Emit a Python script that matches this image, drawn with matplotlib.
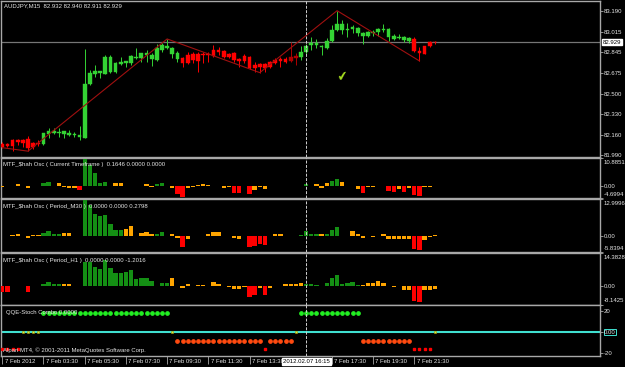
import matplotlib
matplotlib.use("Agg")
import matplotlib.pyplot as plt
import matplotlib.transforms as mtransforms
import numpy as np

plt.rcParams['font.family'] = ['Liberation Sans', 'DejaVu Sans']

# ---------------- data ----------------
header_text = "AUDJPY,M15  82.932 82.940 82.911 82.929"

opens = [82.081, 82.081, 82.115, 82.115, 82.115, 82.120, 82.087, 82.093, 82.079, 82.162,
         82.170, 82.176, 82.165, 82.159, 82.156, 82.137, 82.129, 82.578, 82.664, 82.669,
         82.664, 82.683, 82.678, 82.747, 82.752, 82.758, 82.794, 82.794, 82.822, 82.786,
         82.780, 82.863, 82.877, 82.830, 82.788, 82.799, 82.822, 82.827, 82.827, 82.827,
         82.830, 82.863, 82.863, 82.858, 82.827, 82.836, 82.788, 82.813, 82.808, 82.738,
         82.744, 82.744, 82.761, 82.780, 82.786, 82.786, 82.802, 82.813, 82.802, 82.849,
         82.905, 82.902, 82.885, 82.877, 82.938, 83.030, 83.030, 83.032, 83.035, 83.002,
         82.980, 82.980, 83.005, 83.010, 83.030, 82.974, 82.957, 82.963, 82.946, 82.941,
         82.952, 82.855, 82.896, 82.933, 82.932]
highs = [82.101, 82.093, 82.120, 82.123, 82.123, 82.148, 82.095, 82.115, 82.176, 82.212,
         82.217, 82.212, 82.190, 82.198, 82.181, 82.231, 82.872, 82.697, 82.738, 82.691,
         82.822, 82.822, 82.766, 82.802, 82.772, 82.822, 82.883, 82.841, 82.863, 82.836,
         82.913, 82.924, 82.955, 82.891, 82.855, 82.808, 82.849, 82.849, 82.849, 82.844,
         82.849, 82.905, 82.891, 82.863, 82.841, 82.849, 82.794, 82.827, 82.813, 82.766,
         82.758, 82.752, 82.772, 82.794, 82.808, 82.802, 82.933, 82.836, 82.899, 82.913,
         82.969, 82.952, 82.905, 82.960, 83.071, 83.190, 83.113, 83.085, 83.071, 83.057,
         83.010, 83.021, 83.030, 83.049, 83.079, 83.043, 82.993, 82.996, 82.980, 82.974,
         82.969, 82.885, 82.899, 82.941, 82.940]
lows = [82.045, 82.054, 82.026, 82.073, 82.054, 82.022, 82.040, 82.065, 82.073, 82.134,
        82.165, 82.142, 82.129, 82.148, 82.142, 82.115, 82.129, 82.572, 82.641, 82.628,
        82.664, 82.669, 82.669, 82.738, 82.725, 82.738, 82.786, 82.766, 82.766, 82.733,
        82.775, 82.849, 82.872, 82.794, 82.766, 82.725, 82.747, 82.758, 82.683, 82.752,
        82.766, 82.808, 82.822, 82.794, 82.794, 82.766, 82.725, 82.752, 82.705, 82.683,
        82.675, 82.683, 82.711, 82.747, 82.725, 82.752, 82.766, 82.738, 82.780, 82.830,
        82.863, 82.877, 82.822, 82.869, 82.933, 83.024, 82.996, 82.974, 83.002, 82.982,
        82.913, 82.974, 82.980, 82.980, 83.016, 82.941, 82.946, 82.952, 82.933, 82.919,
        82.849, 82.772, 82.830, 82.891, 82.911]
closes = [82.059, 82.065, 82.068, 82.095, 82.093, 82.051, 82.054, 82.081, 82.170, 82.192,
          82.192, 82.181, 82.190, 82.176, 82.167, 82.156, 82.580, 82.675, 82.691, 82.689,
          82.808, 82.808, 82.758, 82.763, 82.769, 82.813, 82.808, 82.836, 82.841, 82.822,
          82.877, 82.902, 82.896, 82.883, 82.836, 82.752, 82.752, 82.780, 82.772, 82.822,
          82.819, 82.813, 82.849, 82.802, 82.808, 82.780, 82.772, 82.775, 82.711, 82.711,
          82.725, 82.711, 82.719, 82.752, 82.772, 82.766, 82.772, 82.799, 82.849, 82.896,
          82.919, 82.919, 82.896, 82.941, 83.030, 83.079, 83.079, 83.041, 83.057, 83.049,
          83.007, 83.013, 83.016, 83.035, 83.041, 83.038, 82.980, 82.974, 82.974, 82.960,
          82.858, 82.836, 82.830, 82.896, 82.929]
dark_red_bars = [56, 57]

zigzag_bars = [0, 5, 32, 50, 65, 81]
zigzag_prices = [82.051, 82.022, 82.955, 82.675, 83.190, 82.772]

price_ticks = [83.190, 83.015, 82.845, 82.675, 82.500, 82.330, 82.160, 81.990]
price_limits = (81.976, 83.268)
bid_price = 82.929

check_bar = 66
check_price = 82.64

osc_titles = ["MTF_\\$hah Osc ( Current Timeframe )  0.1646 0.0000 0.0000",
              "MTF_\\$hah Osc ( Period_M30 )  0.0000 0.0000 0.2798",
              "MTF_\\$hah Osc ( Period_H1 )  0.0000 0.0000 -1.2016"]
osc_limits = [(-4.6994, 10.8851), (-5.8394, 12.9996), (-8.1425, 14.3828)]

osc_current = [-0.2, 0.1, 0.1, 0.6, 0.1, -0.9, 0.1, 0.1, 1.0, 1.4,
               0.1, 1.0, -0.3, -0.6, -0.9, -1.65, 10.2, 8.0, 4.8, 1.0,
               1.4, -0.1, 1.3, 1.0, 0.1, 0.1, 0.1, 0.1, 0.8, -0.5,
               0.6, 1.0, 0.1, -0.9, -3.2, -4.3, -0.8, -0.5, 0.5, 0.9,
               0.4, 0.1, 0.1, -0.8, -0.2, -2.5, -2.5, -0.1, -2.9, -1.4,
               -0.3, -1.0, 0.1, 0.1, 0.1, 0.1, 0.1, 0.1, 0.1, 0.6,
               0.1, 0.9, -0.6, 1.0, 1.9, 2.7, 1.4, 0.1, -0.1, -1.3,
               -2.5, -0.2, -0.2, 0.1, 0.1, -1.8, -2.4, -1.1, -2.4, -0.6,
               -3.4, -3.9, -0.5, -0.2, 0.16]
osc_current_col = ("oogooooggg goooorgggg ggoooooooo gggorroooo ooooorroro "
                   "oogggggggg goooggoooo rooggrroro rroog").replace(" ", "")
osc_m30 = [0.1, 0.1, 0.2, 0.7, 0.1, -0.6, 0.35, 0.35, 0.9, 1.8,
           0.7, 0.7, 1.1, 1.1, 0.1, -0.1, 12.9, 11.0, 7.8, 7.1,
           7.4, 4.2, 2.1, 2.1, 2.5, 3.5, 0.1, 0.9, 1.2, 0.6,
           0.7, 1.4, 0.1, 0.6, -0.8, -3.8, -1.1, 0.1, -0.2, 0.1,
           0.6, 1.3, 1.3, 0.1, 0.1, -0.6, -1.1, 0.1, -4.1, -3.5,
           -2.9, -3.4, 0.1, 0.5, 0.5, 0.1, 0.1, 0.1, 0.2, 1.8,
           0.8, 0.7, 0.8, 0.7, 2.0, 3.2, 0.1, 0.1, 1.8, 0.5,
           -0.9, -0.1, -0.3, 0.1, 0.5, -1.2, -1.2, -1.2, -1.2, -1.2,
           -4.5, -5.1, -1.4, -0.5, 0.28]
osc_m30_col = ("ogoooooogg ggoooogggg ggggoooooo gggooroooo oooooooorr "
               "rrgooogggg ggogggggoo oooooooooo rrooo").replace(" ", "")
osc_h1 = [-2.8, -2.8, 0.1, 0.1, 0.1, -2.5, 0.1, 0.1, 0.9, 1.6,
          0.9, 0.9, 0.7, 0.7, 0.1, 0.1, 10.6, 10.6, 8.2, 7.4,
          11.4, 8.0, 5.5, 5.5, 6.0, 7.0, 3.1, 3.4, 3.4, 2.3,
          0.1, 1.2, 1.2, 3.4, 0.1, -1.0, 0.7, 0.1, 0.4, 0.4,
          0.1, 1.6, 1.0, 0.1, -0.6, -1.3, -1.3, -0.3, -4.7, -3.9,
          -1.0, -3.9, -1.0, 0.1, 0.1, 0.7, 0.7, 0.9, 1.4, 0.9,
          1.0, 0.5, 0.1, 1.3, 3.5, 4.7, 1.0, 1.4, 1.7, 0.6,
          0.6, 1.4, 1.4, 2.1, 1.4, 0.1, -0.5, 0.1, -1.8, -1.8,
          -6.4, -7.2, -1.8, -1.6, -1.2]
osc_h1_col = ("rroooroogg ggoooogggg gggggggggg gggooooooo oooooooorr "
              "orooooooog gggggggggg oooooooooo rrooo").replace(" ", "")

qqe_title = "QQE-Stoch Combo 0.0000"
qqe_green_bars = list(range(8, 33)) + list(range(58, 70))
qqe_yellow_bars = [4, 5, 6, 7, 33, 57, 84]
qqe_orange_bars = list(range(34, 51)) + list(range(52, 57)) + list(range(70, 80))
qqe_red_bars = [0, 1, 2, 3, 51, 80, 81, 82, 83]
qqe_green_level, qqe_orange_level, qqe_red_level = 18.0, -8.5, -16.5
qqe_limits = (-23.2, 25.4)

time_tick_bars = [0, 8, 16, 24, 32, 40, 48, 64, 72, 80]
time_tick_labels = ["7 Feb 2012", "7 Feb 03:30", "7 Feb 05:30", "7 Feb 07:30",
                    "7 Feb 09:30", "7 Feb 11:30", "7 Feb 13:30", "7 Feb 17:30",
                    "7 Feb 19:30", "7 Feb 21:30"]
cursor_bar = 59
cursor_label = "2012.02.07 16:15"
copyright_text = "Alpari MT4, \u00a9 2001-2011 MetaQuotes Software Corp."

# ---------------- figure ----------------
W, H = 625, 367
FS = 4.3
TXT = '#E6E6E6'
SP = '#A8A8A8'
fig = plt.figure(figsize=(W / 100, H / 100), dpi=100, facecolor='black')


def ax_at(top, bottom, left=1, right=600):
    a = fig.add_axes([left / W, 1 - bottom / H, (right - left) / W, (bottom - top) / H])
    a.set_facecolor('black')
    for s in a.spines.values():
        s.set_color(SP)
        s.set_linewidth(1.0)
    a.set_xlim(-0.25, 116.05)
    a.tick_params(axis='x', bottom=False, labelbottom=False)
    a.yaxis.tick_right()
    a.tick_params(axis='y', colors=SP, labelcolor=TXT, labelsize=FS, length=2,
                  width=0.6, pad=1)
    return a


ax_main = ax_at(1.3, 156.7)
ax_c = ax_at(157.5, 198.3)
ax_m30 = ax_at(199.3, 252.3)
ax_h1 = ax_at(253.3, 304.5)
ax_q = ax_at(305.3, 356)
all_axes = [ax_main, ax_c, ax_m30, ax_h1, ax_q]

# ---- main candles ----
o = np.array(opens); h = np.array(highs); l = np.array(lows); c = np.array(closes)
xb = np.arange(len(o))
cols = []
for i in range(len(o)):
    if i in dark_red_bars:
        cols.append('#B00000')
    elif c[i] >= o[i]:
        cols.append('#34D334')
    else:
        cols.append('#FF0000')
ax_main.vlines(xb, l, h, colors=cols, lw=0.7, zorder=3)
body_b = np.minimum(o, c)
body_h = np.maximum(np.abs(c - o), 0.004)
ax_main.bar(xb, body_h, bottom=body_b, width=0.72, color=cols, edgecolor=cols,
            lw=0.3, zorder=4)
ax_main.plot(zigzag_bars, zigzag_prices, color='#A01010', lw=0.8, zorder=5)
ax_main.axhline(bid_price, color='#767676', lw=0.9, zorder=2)
ax_main.set_ylim(*price_limits)
ax_main.set_yticks(price_ticks)
ax_main.set_yticklabels(["%.3f" % p for p in price_ticks])
ax_main.text(1.004, bid_price, "%.3f" % bid_price, transform=ax_main.get_yaxis_transform(),
             ha='left', va='center', fontsize=FS, color='black', clip_on=False,
             bbox=dict(facecolor='white', edgecolor='white', pad=0.6), zorder=10)
ax_main.text(check_bar, check_price, "\u2714", fontsize=9, color='#A8E020',
             ha='center', va='center', family=['DejaVu Sans'], rotation=8, zorder=6)
fig.text(4 / W, 1 - 6 / H, header_text, fontsize=FS, color=TXT, ha='left', va='center')

# ---- oscillators ----
cmap = {'g': '#148F14', 'o': '#FFA500', 'r': '#FF0000'}
osc_data = [(ax_c, osc_current, osc_current_col), (ax_m30, osc_m30, osc_m30_col),
            (ax_h1, osc_h1, osc_h1_col)]
title_y = [164.3, 206.7, 260.7]
for k, (a, vals, cc) in enumerate(osc_data):
    v = np.array(vals)
    xs = np.arange(len(v))
    colors = [cmap[ch] for ch in cc[:len(v)]]
    a.bar(xs, v, width=0.84, color=colors, lw=0, zorder=3)
    lo, hi = osc_limits[k]
    a.set_ylim(lo, hi)
    a.set_yticks([lo, 0, hi])
    a.set_yticklabels(["", "0.00", ""])
    tr_hi = a.get_yaxis_transform() + mtransforms.ScaledTranslation(0.04, -0.045, fig.dpi_scale_trans)
    tr_lo = a.get_yaxis_transform() + mtransforms.ScaledTranslation(0.04, 0.035, fig.dpi_scale_trans)
    a.text(1.0, hi, "%.4f" % hi, transform=tr_hi, ha='left', va='center',
           fontsize=FS, color=TXT, clip_on=False)
    a.text(1.0, lo, "%.4f" % lo, transform=tr_lo, ha='left', va='center',
           fontsize=FS, color=TXT, clip_on=False)
    fig.text(3 / W, 1 - title_y[k] / H, osc_titles[k], fontsize=FS, color=TXT,
             ha='left', va='center', zorder=20)

# ---- QQE panel ----
ax_q.set_ylim(*qqe_limits)
ax_q.axhline(0, color='#40E0D0', lw=1.5, zorder=2)
ax_q.plot(qqe_green_bars, [qqe_green_level] * len(qqe_green_bars), 'o', ms=2.4,
          color='#22EE22', mec='#22EE22', zorder=4)
ax_q.plot(qqe_orange_bars, [qqe_orange_level] * len(qqe_orange_bars), 'o', ms=2.4,
          color='#FF4A10', mec='#FF4A10', zorder=4)
ax_q.plot(qqe_red_bars, [qqe_red_level] * len(qqe_red_bars), 's', ms=2.0,
          color='#FF0000', mec='#FF0000', zorder=4)
ax_q.plot(qqe_yellow_bars, [0] * len(qqe_yellow_bars), 's', ms=2.0,
          color='#E8E840', mec='#A0A000', mew=0.4, zorder=5)
ax_q.set_yticks([20, 0, -20])
ax_q.set_yticklabels(["20", "0.00", "-20"])
ax_q.get_yticklabels()[1].set_bbox(dict(facecolor='black', edgecolor='#40E0D0',
                                        pad=0.3, lw=0.7))
fig.text(6 / W, 1 - 312.7 / H, qqe_title, fontsize=FS, color=TXT, ha='left',
         va='center', zorder=1)
fig.text(3 / W, 1 - 350 / H, copyright_text, fontsize=FS, color=TXT, ha='left',
         va='center', zorder=20)

# time axis
ax_q.set_xticks(time_tick_bars)
ax_q.tick_params(axis='x', bottom=True, length=5.5, width=0.6, color=SP,
                 labelbottom=False)
for b, lab in zip(time_tick_bars, time_tick_labels):
    ax_q.text(b + 0.45, -0.115, lab, transform=ax_q.get_xaxis_transform(),
              fontsize=FS, color=TXT, ha='left', va='center', clip_on=False)
ax_q.text(cursor_bar, -0.115, cursor_label, transform=ax_q.get_xaxis_transform(),
          fontsize=FS, color='black', ha='center', va='center', clip_on=False,
          bbox=dict(facecolor='white', edgecolor='white', pad=0.8), zorder=10)

# cursor line
for a in all_axes:
    a.axvline(cursor_bar, color='#D0D0D0', lw=0.7, ls=(0, (3, 1.5)), zorder=6)

fig.savefig("out.png", dpi=100, facecolor='black')
